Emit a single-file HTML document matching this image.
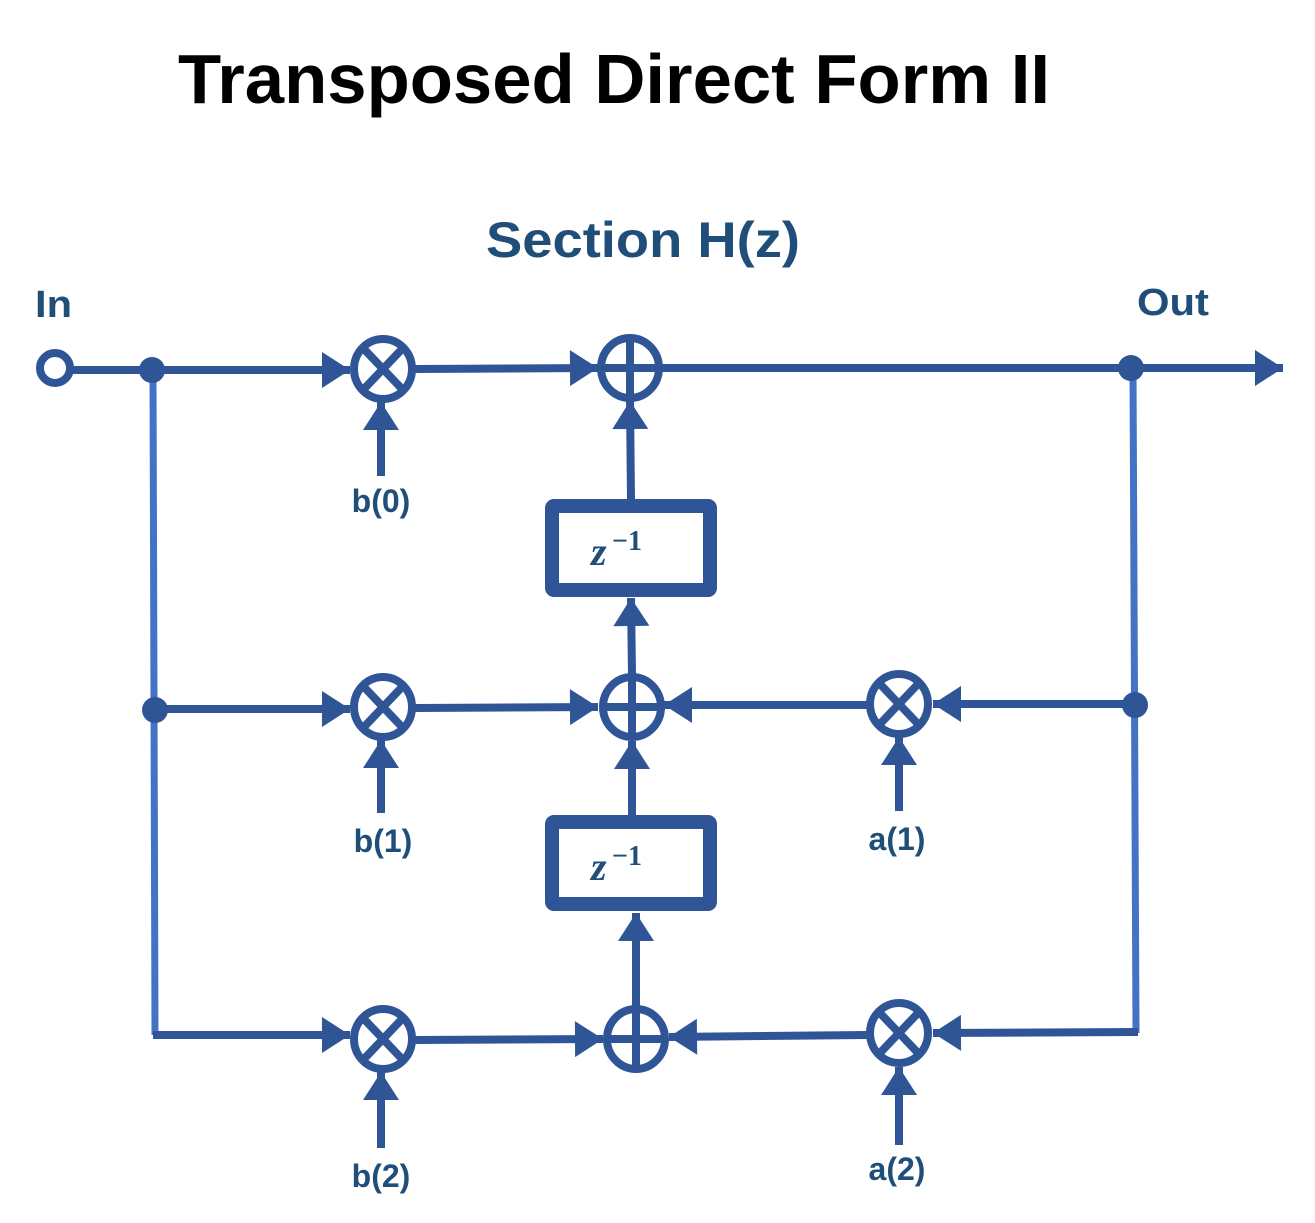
<!DOCTYPE html>
<html><head><style>html,body{margin:0;padding:0;background:#fff;}svg{display:block}</style></head>
<body>
<svg width="1315" height="1223" viewBox="0 0 1315 1223" xmlns="http://www.w3.org/2000/svg">
<defs>
<marker id="ah" markerWidth="10" markerHeight="10" refX="0" refY="0" orient="auto" markerUnits="userSpaceOnUse" overflow="visible">
<path d="M-28,-18 L0,0 L-28,18 Z" fill="#2F5597"/>
</marker>
</defs>
<text x="178" y="103" font-family="Liberation Sans, sans-serif" font-weight="bold" font-size="70" textLength="872" lengthAdjust="spacingAndGlyphs" fill="#000">Transposed Direct Form II</text>
<text x="486" y="257" font-family="Liberation Sans, sans-serif" font-weight="bold" font-size="50" textLength="314" lengthAdjust="spacingAndGlyphs" fill="#1F4E79">Section H(z)</text>
<g font-family="Liberation Sans, sans-serif" font-weight="bold" fill="#1F4E79">
<text x="35" y="317" font-size="38" textLength="37" lengthAdjust="spacingAndGlyphs">In</text>
<text x="1137" y="315" font-size="38" textLength="72" lengthAdjust="spacingAndGlyphs">Out</text>
<g font-size="32" text-anchor="middle">
<text x="381" y="512">b(0)</text>
<text x="383" y="852">b(1)</text>
<text x="381" y="1187">b(2)</text>
<text x="897" y="850">a(1)</text>
<text x="897" y="1180">a(2)</text>
</g>
</g>
<g stroke="#4472C4" stroke-width="7" fill="none">
<line x1="153" y1="372" x2="155" y2="1035"/>
<line x1="1133" y1="370" x2="1136" y2="1033"/>
</g>
<g stroke="#2F5597" stroke-width="8" fill="none">
<line x1="68" y1="370" x2="350" y2="370" marker-end="url(#ah)"/>
<line x1="415" y1="369" x2="598" y2="368" marker-end="url(#ah)"/>
<line x1="662" y1="368" x2="1283" y2="368" marker-end="url(#ah)"/>
<line x1="631" y1="500" x2="630" y2="401" marker-end="url(#ah)"/>
<line x1="381" y1="476" x2="381" y2="402" marker-end="url(#ah)"/>
<line x1="153" y1="709" x2="350" y2="709" marker-end="url(#ah)"/>
<line x1="415" y1="708" x2="598" y2="707" marker-end="url(#ah)"/>
<line x1="867" y1="705" x2="664" y2="705" marker-end="url(#ah)"/>
<line x1="1135" y1="704" x2="933" y2="704" marker-end="url(#ah)"/>
<line x1="632" y1="675" x2="631" y2="598" marker-end="url(#ah)"/>
<line x1="632" y1="815" x2="632" y2="741" marker-end="url(#ah)"/>
<line x1="381" y1="813" x2="381" y2="740" marker-end="url(#ah)"/>
<line x1="899" y1="811" x2="899" y2="737" marker-end="url(#ah)"/>
<line x1="153" y1="1035" x2="350" y2="1035" marker-end="url(#ah)"/>
<line x1="415" y1="1040" x2="603" y2="1039" marker-end="url(#ah)"/>
<line x1="867" y1="1035" x2="669" y2="1037" marker-end="url(#ah)"/>
<line x1="1138" y1="1032" x2="933" y2="1033" marker-end="url(#ah)"/>
<line x1="636" y1="1006" x2="636" y2="913" marker-end="url(#ah)"/>
<line x1="381" y1="1148" x2="381" y2="1072" marker-end="url(#ah)"/>
<line x1="899" y1="1145" x2="899" y2="1067" marker-end="url(#ah)"/>
</g>
<circle cx="55" cy="368" r="15" fill="#fff" stroke="#2F5597" stroke-width="8"/>
<circle cx="152" cy="370" r="13" fill="#2F5597"/>
<circle cx="155" cy="710" r="13" fill="#2F5597"/>
<circle cx="1131" cy="368" r="13" fill="#2F5597"/>
<circle cx="1135" cy="705" r="13" fill="#2F5597"/>
<g fill="#fff" stroke="#2F5597" stroke-width="8">
<g transform="translate(383,369)"><ellipse rx="29" ry="30"/><path d="M-20,-21 L20,21 M20,-21 L-20,21"/></g>
<g transform="translate(383,707)"><ellipse rx="29" ry="30"/><path d="M-20,-21 L20,21 M20,-21 L-20,21"/></g>
<g transform="translate(383,1039)"><ellipse rx="29" ry="30"/><path d="M-20,-21 L20,21 M20,-21 L-20,21"/></g>
<g transform="translate(899,704)"><ellipse rx="29" ry="30"/><path d="M-20,-21 L20,21 M20,-21 L-20,21"/></g>
<g transform="translate(899,1033)"><ellipse rx="29" ry="30"/><path d="M-20,-21 L20,21 M20,-21 L-20,21"/></g>
<g transform="translate(630,368)"><ellipse rx="29" ry="30"/><path d="M0,-30 L0,30 M-29,0 L29,0"/></g>
<g transform="translate(632,707)"><ellipse rx="29" ry="30"/><path d="M0,-30 L0,30 M-29,0 L29,0"/></g>
<g transform="translate(636,1039)"><ellipse rx="29" ry="30"/><path d="M0,-30 L0,30 M-29,0 L29,0"/></g>
</g>
<g fill="#fff" stroke="#2F5597" stroke-width="14">
<rect x="552" y="506" width="158" height="84" rx="2"/>
<rect x="552" y="822" width="158" height="82" rx="2"/>
</g>
<g font-family="Liberation Serif, serif" font-weight="bold" fill="#1F4E79">
<text x="591" y="565" font-size="40" font-style="italic">z</text><text x="612" y="550" font-size="28">−1</text>
<text x="591" y="880" font-size="40" font-style="italic">z</text><text x="612" y="865" font-size="28">−1</text>
</g>
</svg>
</body></html>
